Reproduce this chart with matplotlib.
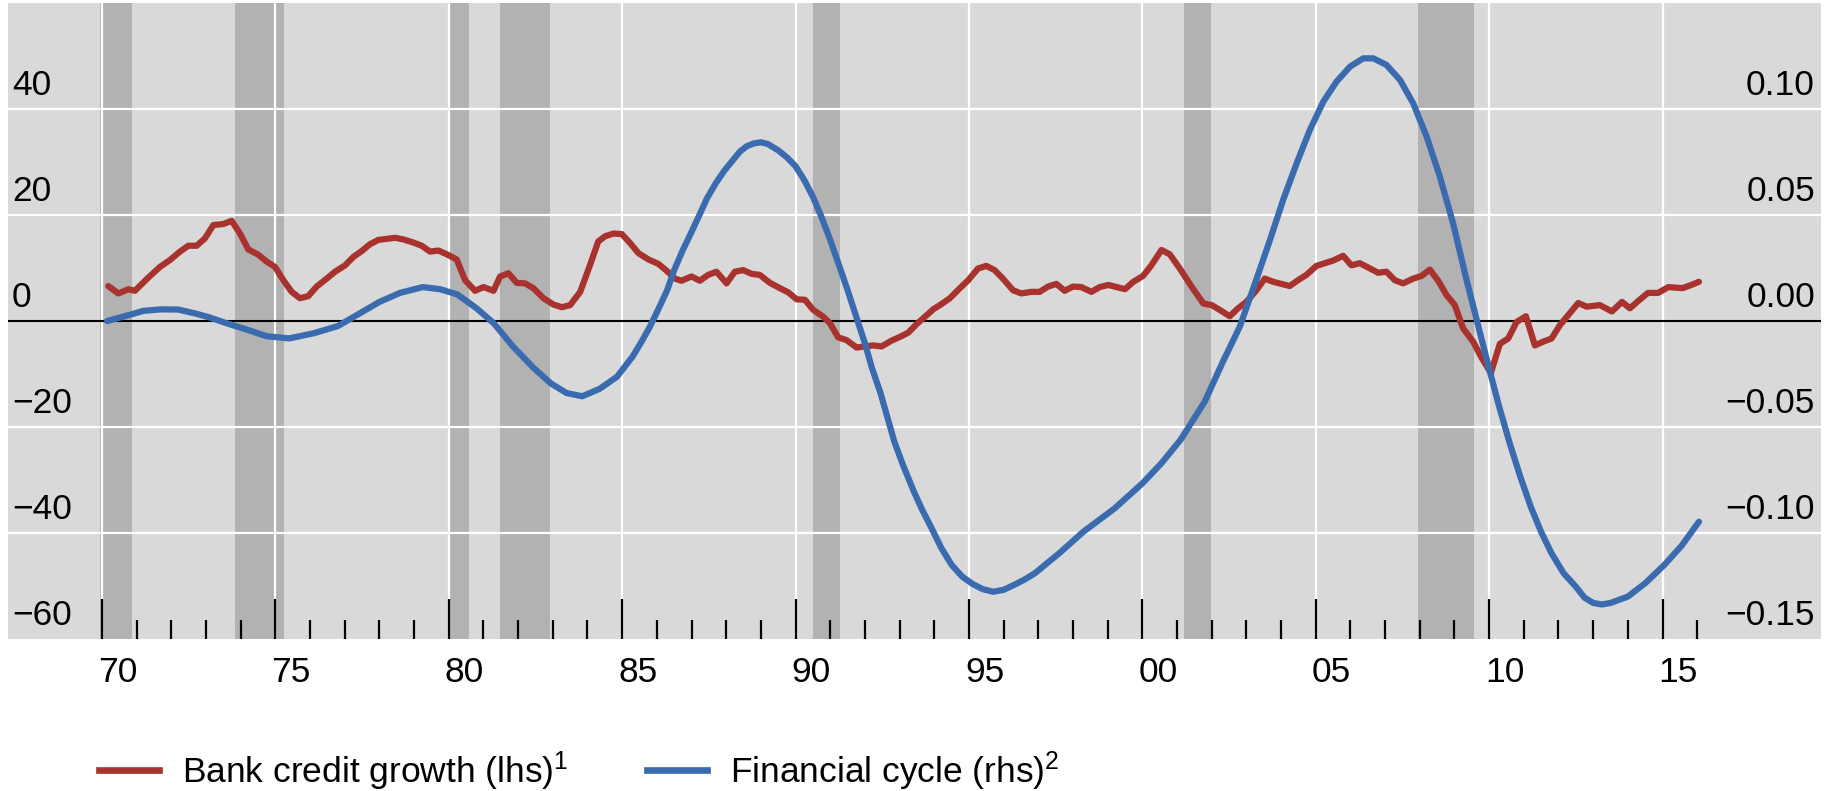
import matplotlib
matplotlib.use("Agg")
import matplotlib.pyplot as plt
from matplotlib.lines import Line2D
import matplotlib.transforms as mtransforms

plt.rcParams['font.family'] = ['Liberation Sans', 'DejaVu Sans']
plt.rcParams['mathtext.fontset'] = 'custom'
plt.rcParams['mathtext.rm'] = 'Liberation Sans'
plt.rcParams['mathtext.it'] = 'Liberation Sans:italic'
plt.rcParams['mathtext.bf'] = 'Liberation Sans:bold'

# ---------------- data ----------------
red_years = [1970.18, 1970.47, 1970.76, 1970.95, 1971.29, 1971.67, 1971.96, 1972.25, 1972.49, 1972.73,
             1972.97, 1973.21, 1973.50, 1973.74, 1973.98, 1974.22, 1974.51, 1974.75, 1974.99, 1975.23,
             1975.47, 1975.71, 1975.95, 1976.19, 1976.48, 1976.72, 1977.01, 1977.25, 1977.49, 1977.73,
             1977.97, 1978.21, 1978.45, 1978.69, 1978.98, 1979.22, 1979.46, 1979.70, 1979.94, 1980.23,
             1980.47, 1980.76, 1981.00, 1981.29, 1981.48, 1981.72, 1981.96, 1982.20, 1982.44, 1982.73,
             1983.02, 1983.26, 1983.50, 1983.79, 1984.07, 1984.31, 1984.51, 1984.75, 1984.99, 1985.23,
             1985.47, 1985.76, 1986.04, 1986.28, 1986.52, 1986.71, 1987.00, 1987.24, 1987.48, 1987.72,
             1988.01, 1988.25, 1988.49, 1988.73, 1988.97, 1989.26, 1989.55, 1989.79, 1990.03, 1990.27,
             1990.51, 1990.80, 1990.99, 1991.23, 1991.47, 1991.76, 1992.00, 1992.24, 1992.48, 1992.77,
             1993.01, 1993.25, 1993.49, 1993.73, 1993.97, 1994.21, 1994.45, 1994.74, 1994.98, 1995.26,
             1995.50, 1995.74, 1995.98, 1996.27, 1996.51, 1996.80, 1997.04, 1997.28, 1997.52, 1997.76,
             1998.00, 1998.24, 1998.53, 1998.77, 1999.02, 1999.50, 1999.74, 2000.02, 2000.26, 2000.55,
             2000.79, 2001.08, 2001.47, 2001.76, 2002.00, 2002.28, 2002.52, 2002.76, 2003.00, 2003.29,
             2003.53, 2003.77, 2004.01, 2004.25, 2004.49, 2004.73, 2005.02, 2005.26, 2005.50, 2005.79,
             2006.03, 2006.27, 2006.51, 2006.80, 2007.04, 2007.28, 2007.52, 2007.81, 2008.05, 2008.29,
             2008.53, 2008.77, 2009.01, 2009.25, 2009.54, 2009.78, 2010.05, 2010.31, 2010.55, 2010.79,
             2011.06, 2011.32, 2011.56, 2011.80, 2012.04, 2012.28, 2012.57, 2012.81, 2013.19, 2013.54,
             2013.83, 2014.06, 2014.32, 2014.58, 2014.87, 2015.17, 2015.58, 2015.83, 2016.05]
red_values = [6.6, 5.2, 6.0, 5.7, 7.9, 10.2, 11.5, 13.1, 14.2, 14.2,
              15.6, 18.1, 18.3, 18.9, 16.5, 13.5, 12.5, 11.2, 10.2, 7.7,
              5.5, 4.3, 4.7, 6.5, 8.0, 9.3, 10.5, 12.1, 13.2, 14.5,
              15.3, 15.5, 15.7, 15.4, 14.8, 14.2, 13.1, 13.3, 12.6, 11.6,
              7.7, 5.7, 6.4, 5.7, 8.4, 9.0, 7.2, 7.1, 6.2, 4.3,
              3.1, 2.6, 3.0, 5.5, 10.5, 15.0, 16.0, 16.5, 16.4, 14.7,
              12.8, 11.6, 10.8, 9.5, 8.0, 7.6, 8.4, 7.6, 8.7, 9.3,
              7.1, 9.3, 9.6, 8.9, 8.7, 7.2, 6.2, 5.4, 4.1, 4.0,
              2.1, 0.8, -0.4, -3.1, -3.6, -5.0, -4.8, -4.6, -4.8, -3.7,
              -3.0, -2.2, -0.6, 0.8, 2.2, 3.2, 4.3, 6.2, 7.7, 9.9,
              10.4, 9.6, 8.0, 5.8, 5.2, 5.5, 5.5, 6.5, 7.0, 5.7,
              6.5, 6.4, 5.5, 6.4, 6.8, 6.0, 7.4, 8.5, 10.5, 13.4,
              12.6, 9.9, 6.0, 3.3, 3.0, 1.9, 0.9, 2.4, 3.6, 5.8,
              8.0, 7.4, 7.0, 6.6, 7.7, 8.7, 10.4, 10.9, 11.4, 12.3,
              10.5, 10.9, 10.1, 9.1, 9.3, 7.7, 7.1, 8.0, 8.5, 9.7,
              7.6, 4.9, 3.0, -1.4, -3.9, -6.9, -9.8, -4.3, -3.3, -0.2,
              0.9, -4.6, -3.9, -3.3, -0.8, 1.1, 3.4, 2.7, 3.0, 1.8,
              3.6, 2.4, 3.9, 5.3, 5.3, 6.4, 6.2, 6.8, 7.4]

blue_years = [1970.15, 1970.6, 1971.2, 1971.7, 1972.2, 1972.7, 1973.1, 1973.6, 1974.2, 1974.75,
              1975.4, 1976.1, 1976.8, 1977.35, 1978.0, 1978.6, 1979.25, 1979.75, 1980.25, 1980.8,
              1981.3, 1981.85, 1982.45, 1982.95, 1983.4, 1983.85, 1984.35, 1984.85, 1985.3, 1985.55,
              1985.8, 1986.05, 1986.3, 1986.5, 1986.75, 1987.0, 1987.25, 1987.45, 1987.7, 1987.95,
              1988.2, 1988.4, 1988.6, 1988.8, 1989.0, 1989.2, 1989.5, 1989.75, 1990.0, 1990.25,
              1990.5, 1990.75, 1991.0, 1991.25, 1991.5, 1991.75, 1992.0, 1992.2, 1992.45, 1992.65,
              1992.85, 1993.1, 1993.4, 1993.65, 1993.95, 1994.2, 1994.5, 1994.8, 1995.1, 1995.4,
              1995.7, 1996.0, 1996.3, 1996.6, 1996.9, 1997.6, 1998.3, 1999.2, 2000.0, 2000.55,
              2001.1, 2001.8, 2002.3, 2002.81, 2003.25, 2003.68, 2004.06, 2004.45, 2004.83, 2005.22,
              2005.6, 2005.99, 2006.37, 2006.66, 2007.04, 2007.43, 2007.81, 2008.2, 2008.58, 2008.96,
              2009.35, 2009.65, 2010.0, 2010.3, 2010.6, 2010.9,
              2011.2, 2011.5, 2011.8, 2012.15, 2012.5, 2012.75, 2013.0, 2013.25, 2013.5, 2014.0,
              2014.5, 2015.05, 2015.55, 2016.05]
blue_values = [0.000, 0.002, 0.0048, 0.0055, 0.0054, 0.0035, 0.0017, -0.0011, -0.0042, -0.0072,
               -0.0082, -0.0058, -0.0024, 0.0028, 0.0090, 0.0133, 0.0160, 0.0150, 0.0125, 0.0060,
               -0.0011, -0.0120, -0.0222, -0.0295, -0.0340, -0.0355, -0.0320, -0.0263, -0.0168, -0.0100,
               -0.0027, 0.0058, 0.0146, 0.0240, 0.0335, 0.0420, 0.0508, 0.0580, 0.0650, 0.0710,
               0.0760, 0.0800, 0.0825, 0.0838, 0.0843, 0.0835, 0.0805, 0.0772, 0.0730, 0.0665,
               0.0586, 0.0490, 0.0382, 0.0265, 0.0146, 0.0020, -0.0105, -0.0220, -0.0340, -0.0455,
               -0.0570, -0.0680, -0.0800, -0.0890, -0.0986, -0.1070, -0.1150, -0.1205, -0.1240, -0.1265,
               -0.1277, -0.1268, -0.1245, -0.1220, -0.1190, -0.1096, -0.0994, -0.0884, -0.0766, -0.0671,
               -0.0561, -0.0380, -0.0200, -0.0027, 0.0178, 0.0382, 0.0571, 0.0744, 0.0901, 0.1035,
               0.1129, 0.1200, 0.1239, 0.1239, 0.1208, 0.1137, 0.1027, 0.0869, 0.0681, 0.0461,
               0.0193, 0.0000, -0.0225, -0.0410, -0.0580, -0.0735,
               -0.0876, -0.0995, -0.1096, -0.1190, -0.1253, -0.1305, -0.1330, -0.1337, -0.1330, -0.1300,
               -0.1237, -0.1151, -0.1060, -0.0947]

recession_starts = [1969.95, 1973.83, 1980.04, 1981.48, 1990.50, 2001.20, 2007.96]
recession_ends = [1970.88, 1975.24, 1980.58, 1982.92, 1991.27, 2001.97, 2009.56]

year_ticks = [1970, 1975, 1980, 1985, 1990, 1995, 2000, 2005, 2010, 2015]
year_labels = ["70", "75", "80", "85", "90", "95", "00", "05", "10", "15"]
minor_years = [y for y in range(1971, 2017) if y % 5 != 0]

left_ticks = [40, 20, 0, -20, -40, -60]
left_labels = ["40", "20", "0", "\u221220", "\u221240", "\u221260"]
right_labels = ["0.10", "0.05", "0.00", "\u22120.05", "\u22120.10", "\u22120.15"]

red_label = "Bank credit growth (lhs)$^{1}$"
blue_label = "Financial cycle (rhs)$^{2}$"

# ---------------- style ----------------
RED = "#A8322E"
BLUE = "#3A6BAF"
BG = "#D9D9D9"
BAND = "#B2B2B2"
FS = 25.5
LW = 4.5

W, H = 1833, 791
fig = plt.figure(figsize=(W / 100, H / 100), dpi=100)
ax = fig.add_axes([8 / W, (H - 639) / H, 1813 / W, 636 / H])
ax.set_facecolor(BG)
for s in ax.spines.values():
    s.set_visible(False)

ax.set_xlim(1967.29, 2019.57)
ax.set_ylim(-60, 60)

for a, b in zip(recession_starts, recession_ends):
    ax.axvspan(a, b, color=BAND, lw=0, zorder=0.5)

for v in [40, 20, -20, -40]:
    ax.axhline(v, color="white", lw=1.6, zorder=1)
for y in year_ticks:
    ax.axvline(y, color="white", lw=1.6, zorder=1)

ax.axhline(0, color="black", lw=1.5, zorder=3)

ax.set_axisbelow(False)
ax.set_xticks(year_ticks)
ax.set_xticks(minor_years, minor=True)
ax.tick_params(axis="x", which="major", direction="in", length=29, width=1.6,
               color="black", labelbottom=False)
ax.tick_params(axis="x", which="minor", direction="in", length=14, width=1.6,
               color="black", labelbottom=False)
ax.set_yticks([])

ax.plot(red_years, red_values, color=RED, lw=LW, zorder=4,
        solid_joinstyle="round", solid_capstyle="round")

ax2 = ax.twinx()
ax2.set_ylim(-0.15, 0.15)
ax2.set_yticks([])
for s in ax2.spines.values():
    s.set_visible(False)
ax2.plot(blue_years, blue_values, color=BLUE, lw=LW, zorder=5,
         solid_joinstyle="round", solid_capstyle="round")

# y labels (placed above gridlines, inside the plot)
trans_l = mtransforms.blended_transform_factory(ax.transAxes, ax.transData)
off = 4.35
for v, lab in zip(left_ticks, left_labels):
    ax.text(4 / 1813, v + off, lab, transform=trans_l, ha="left", va="center",
            fontsize=FS, zorder=6)
for v, lab in zip(left_ticks, right_labels):
    ax.text(1807 / 1813, v + off, lab, transform=trans_l, ha="right", va="center",
            fontsize=FS, zorder=6)

# x labels
trans_x = mtransforms.blended_transform_factory(ax.transData, ax.transAxes)
for y, lab in zip(year_ticks, year_labels):
    ax.text(y + 0.45, -34 / 636, lab, transform=trans_x, ha="center", va="center",
            fontsize=FS, clip_on=False)

# legend
handles = [Line2D([], [], color=RED, lw=4.8), Line2D([], [], color=BLUE, lw=4.8)]
fig.legend(handles, [red_label, blue_label], loc="center left",
           bbox_to_anchor=(99 / W, 1 - 771 / H), ncol=2, frameon=False,
           fontsize=FS, handlelength=1.7, handletextpad=0.65, columnspacing=2.2,
           borderpad=0, borderaxespad=0)

fig.savefig("out.png", dpi=100, facecolor="white")
